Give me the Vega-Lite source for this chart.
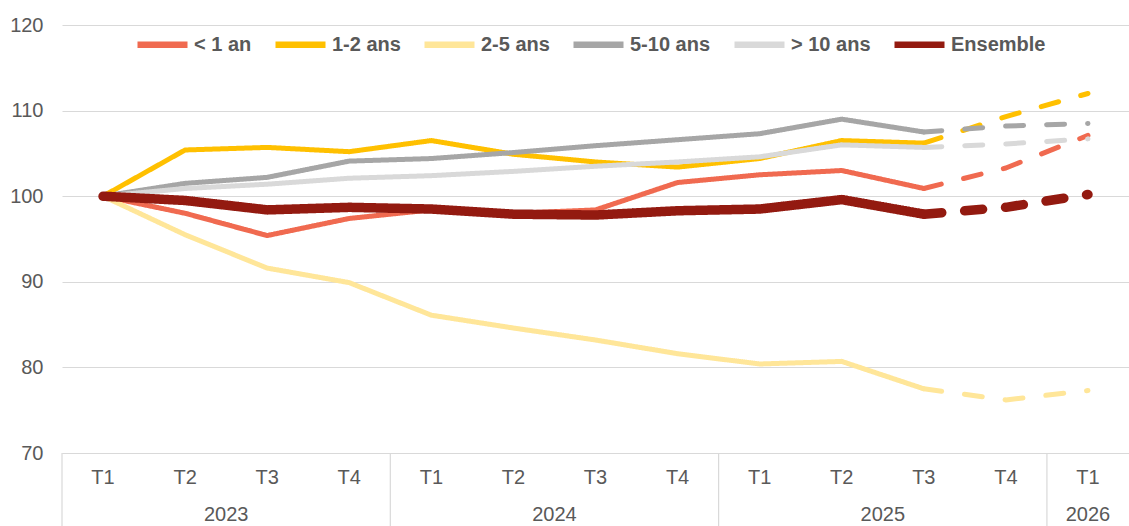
{
  "$schema": "https://vega.github.io/schema/vega-lite/v6.json",
  "width": 1067,
  "height": 428,
  "autosize": "none",
  "padding": {"left": 62, "top": 25, "right": 0, "bottom": 73},
  "background": "white",
  "config": {
    "view": {"stroke": null},
    "font": "Liberation Sans",
    "axis": {"labelFont": "Liberation Sans", "labelColor": "#595959", "labelFontSize": 20},
    "legend": {"labelFont": "Liberation Sans"}
  },
  "datasets": {
    "series": [
      {"serie": "< 1 an", "periode": "2023-T1", "type": "obs", "valeur": 100},
      {"serie": "< 1 an", "periode": "2023-T2", "type": "obs", "valeur": 98.0},
      {"serie": "< 1 an", "periode": "2023-T3", "type": "obs", "valeur": 95.4},
      {"serie": "< 1 an", "periode": "2023-T4", "type": "obs", "valeur": 97.4},
      {"serie": "< 1 an", "periode": "2024-T1", "type": "obs", "valeur": 98.4},
      {"serie": "< 1 an", "periode": "2024-T2", "type": "obs", "valeur": 98.0},
      {"serie": "< 1 an", "periode": "2024-T3", "type": "obs", "valeur": 98.4},
      {"serie": "< 1 an", "periode": "2024-T4", "type": "obs", "valeur": 101.6},
      {"serie": "< 1 an", "periode": "2025-T1", "type": "obs", "valeur": 102.5},
      {"serie": "< 1 an", "periode": "2025-T2", "type": "obs", "valeur": 103.0},
      {"serie": "< 1 an", "periode": "2025-T3", "type": "obs", "valeur": 100.9},
      {"serie": "< 1 an", "periode": "2025-T3", "type": "prev", "valeur": 100.9},
      {"serie": "< 1 an", "periode": "2025-T4", "type": "prev", "valeur": 103.3},
      {"serie": "< 1 an", "periode": "2026-T1", "type": "prev", "valeur": 107.1},

      {"serie": "1-2 ans", "periode": "2023-T1", "type": "obs", "valeur": 100},
      {"serie": "1-2 ans", "periode": "2023-T2", "type": "obs", "valeur": 105.4},
      {"serie": "1-2 ans", "periode": "2023-T3", "type": "obs", "valeur": 105.7},
      {"serie": "1-2 ans", "periode": "2023-T4", "type": "obs", "valeur": 105.2},
      {"serie": "1-2 ans", "periode": "2024-T1", "type": "obs", "valeur": 106.5},
      {"serie": "1-2 ans", "periode": "2024-T2", "type": "obs", "valeur": 104.9},
      {"serie": "1-2 ans", "periode": "2024-T3", "type": "obs", "valeur": 104.0},
      {"serie": "1-2 ans", "periode": "2024-T4", "type": "obs", "valeur": 103.4},
      {"serie": "1-2 ans", "periode": "2025-T1", "type": "obs", "valeur": 104.4},
      {"serie": "1-2 ans", "periode": "2025-T2", "type": "obs", "valeur": 106.5},
      {"serie": "1-2 ans", "periode": "2025-T3", "type": "obs", "valeur": 106.2},
      {"serie": "1-2 ans", "periode": "2025-T3", "type": "prev", "valeur": 106.2},
      {"serie": "1-2 ans", "periode": "2025-T4", "type": "prev", "valeur": 109.3},
      {"serie": "1-2 ans", "periode": "2026-T1", "type": "prev", "valeur": 112.0},

      {"serie": "2-5 ans", "periode": "2023-T1", "type": "obs", "valeur": 100},
      {"serie": "2-5 ans", "periode": "2023-T2", "type": "obs", "valeur": 95.5},
      {"serie": "2-5 ans", "periode": "2023-T3", "type": "obs", "valeur": 91.6},
      {"serie": "2-5 ans", "periode": "2023-T4", "type": "obs", "valeur": 89.9},
      {"serie": "2-5 ans", "periode": "2024-T1", "type": "obs", "valeur": 86.1},
      {"serie": "2-5 ans", "periode": "2024-T2", "type": "obs", "valeur": 84.6},
      {"serie": "2-5 ans", "periode": "2024-T3", "type": "obs", "valeur": 83.2},
      {"serie": "2-5 ans", "periode": "2024-T4", "type": "obs", "valeur": 81.6},
      {"serie": "2-5 ans", "periode": "2025-T1", "type": "obs", "valeur": 80.4},
      {"serie": "2-5 ans", "periode": "2025-T2", "type": "obs", "valeur": 80.7},
      {"serie": "2-5 ans", "periode": "2025-T3", "type": "obs", "valeur": 77.5},
      {"serie": "2-5 ans", "periode": "2025-T3", "type": "prev", "valeur": 77.5},
      {"serie": "2-5 ans", "periode": "2025-T4", "type": "prev", "valeur": 76.2},
      {"serie": "2-5 ans", "periode": "2026-T1", "type": "prev", "valeur": 77.3},

      {"serie": "5-10 ans", "periode": "2023-T1", "type": "obs", "valeur": 100},
      {"serie": "5-10 ans", "periode": "2023-T2", "type": "obs", "valeur": 101.5},
      {"serie": "5-10 ans", "periode": "2023-T3", "type": "obs", "valeur": 102.2},
      {"serie": "5-10 ans", "periode": "2023-T4", "type": "obs", "valeur": 104.1},
      {"serie": "5-10 ans", "periode": "2024-T1", "type": "obs", "valeur": 104.4},
      {"serie": "5-10 ans", "periode": "2024-T2", "type": "obs", "valeur": 105.1},
      {"serie": "5-10 ans", "periode": "2024-T3", "type": "obs", "valeur": 105.9},
      {"serie": "5-10 ans", "periode": "2024-T4", "type": "obs", "valeur": 106.6},
      {"serie": "5-10 ans", "periode": "2025-T1", "type": "obs", "valeur": 107.3},
      {"serie": "5-10 ans", "periode": "2025-T2", "type": "obs", "valeur": 109.0},
      {"serie": "5-10 ans", "periode": "2025-T3", "type": "obs", "valeur": 107.5},
      {"serie": "5-10 ans", "periode": "2025-T3", "type": "prev", "valeur": 107.5},
      {"serie": "5-10 ans", "periode": "2025-T4", "type": "prev", "valeur": 108.2},
      {"serie": "5-10 ans", "periode": "2026-T1", "type": "prev", "valeur": 108.5},

      {"serie": "> 10 ans", "periode": "2023-T1", "type": "obs", "valeur": 100},
      {"serie": "> 10 ans", "periode": "2023-T2", "type": "obs", "valeur": 100.9},
      {"serie": "> 10 ans", "periode": "2023-T3", "type": "obs", "valeur": 101.4},
      {"serie": "> 10 ans", "periode": "2023-T4", "type": "obs", "valeur": 102.1},
      {"serie": "> 10 ans", "periode": "2024-T1", "type": "obs", "valeur": 102.4},
      {"serie": "> 10 ans", "periode": "2024-T2", "type": "obs", "valeur": 102.9},
      {"serie": "> 10 ans", "periode": "2024-T3", "type": "obs", "valeur": 103.5},
      {"serie": "> 10 ans", "periode": "2024-T4", "type": "obs", "valeur": 104.0},
      {"serie": "> 10 ans", "periode": "2025-T1", "type": "obs", "valeur": 104.6},
      {"serie": "> 10 ans", "periode": "2025-T2", "type": "obs", "valeur": 106.0},
      {"serie": "> 10 ans", "periode": "2025-T3", "type": "obs", "valeur": 105.7},
      {"serie": "> 10 ans", "periode": "2025-T3", "type": "prev", "valeur": 105.7},
      {"serie": "> 10 ans", "periode": "2025-T4", "type": "prev", "valeur": 106.1},
      {"serie": "> 10 ans", "periode": "2026-T1", "type": "prev", "valeur": 106.7},

      {"serie": "Ensemble", "periode": "2023-T1", "type": "obs", "valeur": 100},
      {"serie": "Ensemble", "periode": "2023-T2", "type": "obs", "valeur": 99.5},
      {"serie": "Ensemble", "periode": "2023-T3", "type": "obs", "valeur": 98.4},
      {"serie": "Ensemble", "periode": "2023-T4", "type": "obs", "valeur": 98.7},
      {"serie": "Ensemble", "periode": "2024-T1", "type": "obs", "valeur": 98.5},
      {"serie": "Ensemble", "periode": "2024-T2", "type": "obs", "valeur": 97.9},
      {"serie": "Ensemble", "periode": "2024-T3", "type": "obs", "valeur": 97.8},
      {"serie": "Ensemble", "periode": "2024-T4", "type": "obs", "valeur": 98.3},
      {"serie": "Ensemble", "periode": "2025-T1", "type": "obs", "valeur": 98.5},
      {"serie": "Ensemble", "periode": "2025-T2", "type": "obs", "valeur": 99.6},
      {"serie": "Ensemble", "periode": "2025-T3", "type": "obs", "valeur": 97.9},
      {"serie": "Ensemble", "periode": "2025-T3", "type": "prev", "valeur": 97.9},
      {"serie": "Ensemble", "periode": "2025-T4", "type": "prev", "valeur": 98.7},
      {"serie": "Ensemble", "periode": "2026-T1", "type": "prev", "valeur": 100.2}
    ],
    "separateurs": [
      {"debut": "2023-T1"},
      {"debut": "2024-T1"},
      {"debut": "2025-T1"},
      {"debut": "2026-T1"}
    ],
    "annees": [
      {"annee": "2023", "milieu": "2023-T2"},
      {"annee": "2024", "milieu": "2024-T2"},
      {"annee": "2025", "milieu": "2025-T2"}
    ],
    "annee_seule": [
      {"annee": "2026", "milieu": "2026-T1"}
    ]
  },
  "layer": [
    {
      "data": {"name": "series"},
      "transform": [{"filter": "datum.serie !== 'Ensemble'"}],
      "mark": {"type": "line", "strokeCap": "round", "strokeJoin": "round", "strokeWidth": 5},
      "encoding": {
        "x": {
          "field": "periode",
          "type": "nominal",
          "scale": {
            "domain": ["2023-T1", "2023-T2", "2023-T3", "2023-T4", "2024-T1", "2024-T2", "2024-T3", "2024-T4", "2025-T1", "2025-T2", "2025-T3", "2025-T4", "2026-T1"],
            "paddingInner": 0,
            "paddingOuter": 0
          },
          "axis": {
            "title": null,
            "labelAngle": 0,
            "labelExpr": "split(datum.value, '-')[1]",
            "ticks": false,
            "labelPadding": 14,
            "domainColor": "#D9D9D9",
            "domainWidth": 1,
            "grid": false
          }
        },
        "y": {
          "field": "valeur",
          "type": "quantitative",
          "scale": {"domain": [70, 120], "nice": false, "zero": false},
          "axis": {
            "title": null,
            "values": [70, 80, 90, 100, 110, 120],
            "ticks": false,
            "domain": false,
            "labelPadding": 19,
            "gridColor": "#D9D9D9",
            "gridWidth": 1.2
          }
        },
        "color": {
          "field": "serie",
          "type": "nominal",
          "scale": {
            "domain": ["< 1 an", "1-2 ans", "2-5 ans", "5-10 ans", "> 10 ans", "Ensemble"],
            "range": ["#F06A50", "#FFC000", "#FFE699", "#A6A6A6", "#D9D9D9", "#931A10"]
          },
          "legend": {
            "title": null,
            "orient": "none",
            "direction": "horizontal",
            "legendX": 72,
            "legendY": -9,
            "symbolType": "stroke",
            "symbolSize": 2500,
            "symbolStrokeWidth": 6.5,
            "labelFontSize": 20,
            "labelFontWeight": "bold",
            "labelColor": "#595959",
            "labelOffset": 3,
            "columnPadding": 10,
            "symbolLimit": 0
          }
        },
        "strokeDash": {
          "field": "type",
          "type": "nominal",
          "scale": {"domain": ["obs", "prev"], "range": [[1, 0], [18, 23]]},
          "legend": null
        },
        "detail": {"field": "type"}
      }
    },
    {
      "data": {"name": "series"},
      "transform": [{"filter": "datum.serie === 'Ensemble'"}],
      "mark": {"type": "line", "strokeCap": "round", "strokeJoin": "round", "strokeWidth": 9.5},
      "encoding": {
        "x": {"field": "periode", "type": "nominal"},
        "y": {"field": "valeur", "type": "quantitative"},
        "color": {"field": "serie", "type": "nominal"},
        "strokeDash": {"field": "type", "type": "nominal", "legend": null},
        "detail": {"field": "type"}
      }
    },
    {
      "data": {"name": "separateurs"},
      "mark": {"type": "rule", "color": "#D9D9D9", "strokeWidth": 1.2},
      "encoding": {
        "x": {"field": "debut", "type": "nominal", "bandPosition": 0},
        "y": {"datum": 70},
        "y2": {"datum": 61}
      }
    },
    {
      "data": {"name": "annees"},
      "mark": {"type": "text", "fontSize": 20, "color": "#595959", "font": "Liberation Sans", "baseline": "middle", "align": "center"},
      "encoding": {
        "x": {"field": "milieu", "type": "nominal", "bandPosition": 1},
        "y": {"datum": 62.8},
        "text": {"field": "annee"}
      }
    },
    {
      "data": {"name": "annee_seule"},
      "mark": {"type": "text", "fontSize": 20, "color": "#595959", "font": "Liberation Sans", "baseline": "middle", "align": "center"},
      "encoding": {
        "x": {"field": "milieu", "type": "nominal", "bandPosition": 0.5},
        "y": {"datum": 62.8},
        "text": {"field": "annee"}
      }
    }
  ]
}
